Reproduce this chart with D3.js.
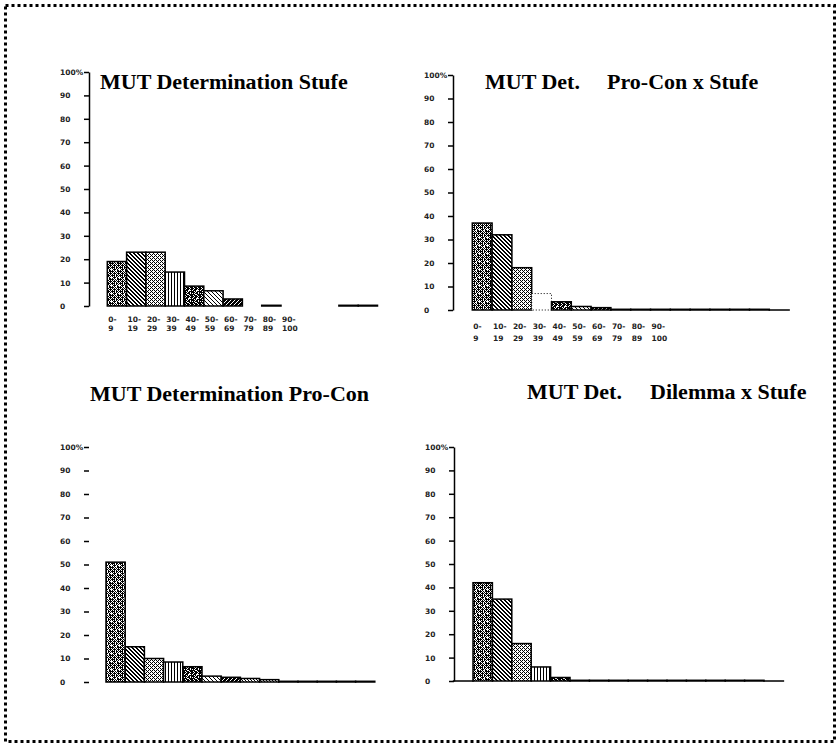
<!DOCTYPE html>
<html>
<head>
<meta charset="utf-8">
<script src="https://cdn.jsdelivr.net/npm/d3@7"></script>
<style>
  body { margin: 0; background: #fff; }
  svg { display: block; }
</style>
</head>
<body>
<svg id="chart" width="836" height="743"></svg>
<script>
// Score bands on the x axis (slot 0 is the empty gap next to the axis)
const xTickLabels = ["0-9", "10-19", "20-29", "30-39", "40-49", "50-59", "60-69", "70-79", "80-89", "90-100"];
const yTicks = [0, 10, 20, 30, 40, 50, 60, 70, 80, 90, 100];
const yTickLabels = ["0", "10", "20", "30", "40", "50", "60", "70", "80", "90", "100%"];

const titles = [
  ["MUT Determination Stufe"],
  ["MUT Det.", "Pro-Con x Stufe"],
  ["MUT Determination Pro-Con"],
  ["MUT Det.", "Dilemma x Stufe"]
];

// Percent of cases per slot (null = nothing drawn in that slot)
const stufeValues        = [null, 19, 23, 23, 14.5, 8.5, 6.5, 3, null, 0.3, null, null, null, 0.3, 0.3];
const proConStufeValues  = [null, 37, 32, 18, 7, 3.5, 1.5, 1, 0.3, 0.3, 0.3, 0.3, 0.3, 0.3, 0.3, 0.3, 0];
const proConValues       = [null, 51, 15, 10, 8.5, 6.5, 2.5, 2, 1.5, 1, 0.3, 0.3, 0.3, 0.3, 0.3];
const dilemmaStufeValues = [0, 42, 35, 16, 6, 1.5, 0.3, 0.3, 0.3, 0.3, 0.3, 0.3, 0.3, 0.3, 0.3, 0.3, 0];

const svg = d3.select("#chart");
svg.append("rect").attr("width", 836).attr("height", 743).attr("fill", "#fff");

// Dotted frame round the whole figure
svg.append("rect")
  .attr("x", 5.5).attr("y", 5.5).attr("width", 829).attr("height", 736)
  .attr("fill", "none").attr("stroke", "#000").attr("stroke-width", 3)
  .attr("stroke-dasharray", "3,3");

// One-bit fill patterns, one per score band
const bitmaps = {
  p1: ["X.X.X.X.", ".XXX.XXX", "X.X.X.X.", "XXX.XX.X", "X.X.X.X.", ".XXX.X..", "X.X..XX.", "XX.X.XXX"],
  p2: ["XX..", ".XX.", "..XX", "X..X"],
  p3: ["X.X.", ".X..", "X.X.", "...X"],
  p4: ["X..", "X..", "X.."],
  p5: ["XX.XXX.X", "X.XXX.XX", ".XXX...X", "XX.X.XXX", "XXX.XX.X", ".X.XXX.X", "XXX..XXX", "X.XXX.XX"],
  p6: ["X...", ".X..", "..X.", "...X"],
  p7: ["XX.X", "X.XX", ".XXX", "XXX."],
  p8: ["X..", ".X.", "..X"]
};
const defs = svg.append("defs");
Object.entries(bitmaps).forEach(([id, rows]) => {
  const h = rows.length, w = rows[0].length;
  const pat = defs.append("pattern").attr("id", id)
    .attr("patternUnits", "userSpaceOnUse").attr("width", w).attr("height", h);
  pat.append("rect").attr("width", w).attr("height", h).attr("fill", "#fff");
  rows.forEach((row, yy) => [...row].forEach((c, xx) => {
    if (c === "X") pat.append("rect").attr("x", xx).attr("y", yy)
      .attr("width", 1).attr("height", 1).attr("fill", "#000");
  }));
});
const slotPattern = i => ["p1", "p1", "p2", "p3", "p4", "p5", "p6", "p7", "p8"][Math.min(i, 8)];

const panels = [
  { values: stufeValues, title: titles[0], axisX: 89, y0: 306, y100: 72, slotStart: 88, slotW: 19.3,
    titleX: [100], titleY: 89, labels: true, labelY: [322, 331], domain: true, faint: [] },
  { values: proConStufeValues, title: titles[1], axisX: 453, y0: 310, y100: 75, slotStart: 452.5, slotW: 19.8,
    titleX: [485, 607], titleY: 89, labels: true, labelY: [329, 341], domain: true, faint: [4] },
  { values: proConValues, title: titles[2], axisX: 89, y0: 682, y100: 447, slotStart: 86.8, slotW: 19.2,
    titleX: [90], titleY: 401, labels: false, domain: false, faint: [] },
  { values: dilemmaStufeValues, title: titles[3], axisX: 454, y0: 681, y100: 447, slotStart: 453.6, slotW: 19.4,
    titleX: [527, 650], titleY: 399, labels: false, domain: true, faint: [] }
];

panels.forEach(p => {
  const g = svg.append("g");
  const n = p.values.length;
  const x = d3.scaleBand().domain(d3.range(n))
    .range([p.slotStart, p.slotStart + p.slotW * n]).padding(0);
  const y = d3.scaleLinear().domain([0, 100]).range([p.y0, p.y100]);

  // Title
  p.title.forEach((t, k) => {
    g.append("text").attr("x", p.titleX[k]).attr("y", p.titleY)
      .attr("font-family", "'Liberation Serif', 'Times New Roman', serif")
      .attr("font-weight", "bold").attr("font-size", 22).attr("fill", "#000")
      .text(t);
  });

  // Y axis
  const ax = g.append("g").attr("transform", `translate(${p.axisX},0)`)
    .call(d3.axisLeft(y).tickValues(yTicks).tickSize(5).tickSizeOuter(0)
      .tickFormat((d, i) => yTickLabels[i]));
  ax.select(".domain").attr("stroke-width", 1.5).attr("display", p.domain ? null : "none");
  ax.selectAll(".tick line").attr("stroke-width", 1.5);
  ax.selectAll(".tick text").attr("x", -29).attr("text-anchor", "start")
    .attr("font-family", "'DejaVu Sans', sans-serif").attr("font-size", 7.5)
    .attr("font-weight", "bold").attr("fill", "#222");

  // Bars (a zero-height rect is not rendered, so keep a hairline height)
  const data = p.values.map((v, i) => ({ v, i })).filter(d => d.v !== null);
  g.selectAll("rect.bar").data(data).join("rect").attr("class", "bar")
    .attr("x", d => x(d.i)).attr("width", x.bandwidth())
    .attr("y", d => y(d.v)).attr("height", d => Math.max(y(0) - y(d.v), 0.01))
    .attr("fill", d => p.faint.includes(d.i) ? "#fff" : `url(#${slotPattern(d.i)})`)
    .attr("stroke", "#000").attr("stroke-width", d => p.faint.includes(d.i) ? 1 : 1.5)
    .attr("stroke-dasharray", d => p.faint.includes(d.i) ? "1,2" : null);

  // Two-line band labels under the bars
  if (p.labels) {
    xTickLabels.forEach((lab, k) => {
      const parts = lab.split("-");
      const t = g.append("text").attr("font-family", "'DejaVu Sans', sans-serif")
        .attr("font-size", 7.5).attr("font-weight", "bold").attr("fill", "#222");
      t.append("tspan").attr("x", x(k + 1) + 1).attr("y", p.labelY[0]).text(parts[0] + "-");
      t.append("tspan").attr("x", x(k + 1) + 1).attr("y", p.labelY[1]).text(parts[1]);
    });
  }
});
</script>
</body>
</html>
